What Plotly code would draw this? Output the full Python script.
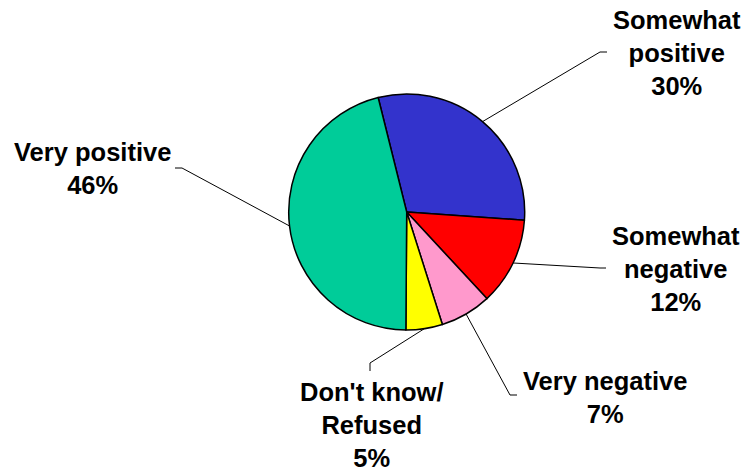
import math
import plotly.graph_objects as go

labels = ["Somewhat positive", "Somewhat negative", "Very negative", "Don't know/Refused", "Very positive"]
values = [30, 12, 7, 5, 46]
label_text = ["Somewhat<br>positive<br>30%", "Somewhat<br>negative<br>12%", "Very negative<br>7%",
              "Don't know/<br>Refused<br>5%", "Very positive<br>46%"]
colors = ["#3333CC", "#FF0000", "#FF99CC", "#FFFF00", "#00CC99"]

W, H = 744, 471
CX, CY, R = 406.7, 212.0, 118.0
ROT = -14.0

# label positions (px, visual centers) and leader-line elbows (px)
label_pos = [(677, 53.5), (675.5, 269), (604.5, 397), (371.7, 425), (92, 169)]
elbows = [[(600, 52), (607, 52)],
          [(600, 268), (606, 268)],
          [(510, 395), (517, 395)],
          [(370, 363), (370, 371)],
          [(182, 168), (175, 168)]]

def px(x):
    return x / W

def py(y):
    return 1 - y / H

fig = go.Figure()
fig.add_trace(go.Pie(
    labels=labels, values=values, sort=False, direction="clockwise", rotation=ROT,
    marker=dict(colors=colors, line=dict(color="black", width=1.5)),
    textinfo="none", hoverinfo="label+percent", showlegend=False,
    domain=dict(x=[px(CX - R), px(CX + R)], y=[py(CY + R), py(CY - R)]),
))

total = sum(values)
cum = 0
shapes = []
annotations = []
for i, v in enumerate(values):
    mid = ROT + 360 * (cum + v / 2) / total
    cum += v
    a = math.radians(mid)
    sx, sy = CX + R * math.sin(a), CY - R * math.cos(a)
    pts = [(sx, sy)] + elbows[i]
    path = "M " + " L ".join(f"{px(x)},{py(y)}" for x, y in pts)
    shapes.append(dict(type="path", path=path, xref="paper", yref="paper",
                       line=dict(color="black", width=1)))
    lx, ly = label_pos[i]
    annotations.append(dict(text="<b>" + label_text[i] + "</b>", x=px(lx), y=py(ly),
                            xref="paper", yref="paper", xanchor="center", yanchor="middle",
                            showarrow=False, align="center",
                            font=dict(family="Liberation Sans, Arial, sans-serif", size=25.5, color="black")))

fig.update_layout(width=W, height=H, margin=dict(l=0, r=0, t=0, b=0),
                  paper_bgcolor="white", plot_bgcolor="white",
                  shapes=shapes, annotations=annotations)
fig.write_html("out.html")
